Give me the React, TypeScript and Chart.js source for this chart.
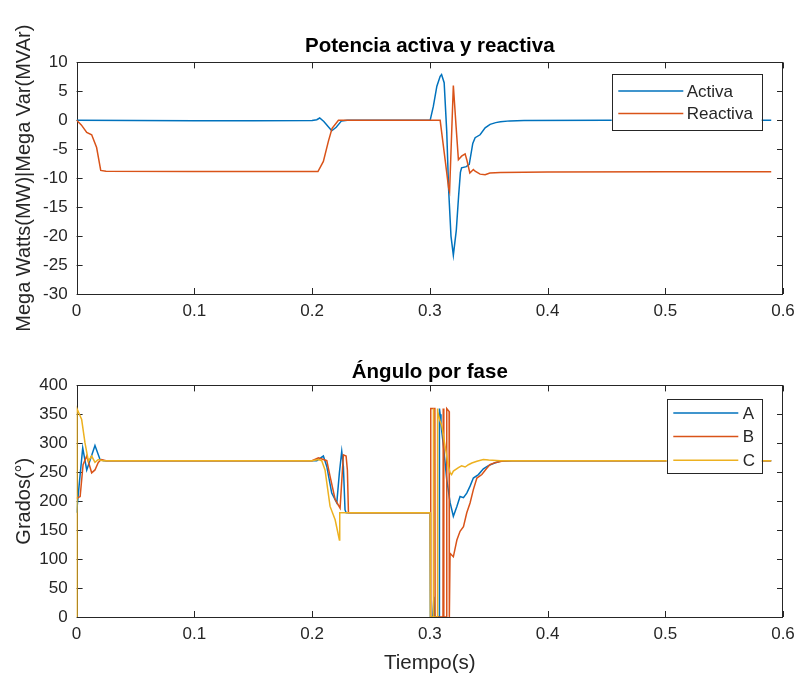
import React, { useEffect, useRef } from 'react';
import { Chart, registerables } from 'chart.js';

Chart.register(...registerables);

// ---------- Data ----------
const xTicks = [0, 0.1, 0.2, 0.3, 0.4, 0.5, 0.6];
const xTickLabels = ['0', '0.1', '0.2', '0.3', '0.4', '0.5', '0.6'];
const powerTicks = [-30, -25, -20, -15, -10, -5, 0, 5, 10];
const powerTickLabels = ['-30', '-25', '-20', '-15', '-10', '-5', '0', '5', '10'];
const angleTicks = [0, 50, 100, 150, 200, 250, 300, 350, 400];
const angleTickLabels = ['0', '50', '100', '150', '200', '250', '300', '350', '400'];

const powerTitle = 'Potencia activa y reactiva';
const angleTitle = 'Ángulo por fase';
const powerYLabel = 'Mega Watts(MW)|Mega Var(MVAr)';
const angleYLabel = 'Grados(°)';
const timeLabel = 'Tiempo(s)';
const powerSeriesNames = ['Activa', 'Reactiva'];
const angleSeriesNames = ['A', 'B', 'C'];

const tActiva = [0, 0.05, 0.1, 0.15, 0.2, 0.204, 0.2065, 0.21, 0.2167, 0.2205, 0.225, 0.23, 0.3, 0.3003, 0.303, 0.306, 0.3088, 0.31, 0.3122, 0.3144, 0.316, 0.318, 0.32, 0.3225, 0.3245, 0.326, 0.327, 0.331, 0.3335, 0.3365, 0.3385, 0.3427, 0.347, 0.3512, 0.356, 0.36, 0.368, 0.38, 0.45, 0.52, 0.59];
const activa = [0, -0.05, -0.08, -0.08, -0.05, 0.1, 0.4, -0.2, -1.8, -1.2, -0.1, 0, 0, 0, 2.4, 5.9, 7.6, 7.9, 6.5, -2, -12, -20, -23.3, -19, -13, -9, -8.2, -8, -7.6, -4, -3, -2.5, -1.3, -0.7, -0.4, -0.27, -0.1, -0.05, 0, 0, 0];

const tReactiva = [0, 0.004, 0.0086, 0.0128, 0.017, 0.0205, 0.025, 0.1, 0.205, 0.2096, 0.2139, 0.217, 0.2224, 0.23, 0.3, 0.3088, 0.313, 0.316, 0.3168, 0.32, 0.3223, 0.3243, 0.327, 0.33, 0.3314, 0.334, 0.337, 0.3385, 0.3427, 0.347, 0.351, 0.36, 0.4, 0.5, 0.59];
const reactiva = [0, -0.8, -2.1, -2.5, -4.7, -8.65, -8.8, -8.85, -8.85, -7.1, -3.6, -1.4, 0, 0, 0, 0, -6.8, -11.7, -12.3, 6.0, -1, -6.8, -6.2, -5.8, -6.8, -9.1, -8.5, -8.8, -9.3, -9.4, -9.1, -9.0, -8.95, -8.9, -8.9];

const tA = [0, 0.0025, 0.0052, 0.0086, 0.0108, 0.0156, 0.0199, 0.023, 0.1, 0.2, 0.204, 0.2096, 0.2125, 0.2167, 0.221, 0.2232, 0.2252, 0.2266, 0.228, 0.229, 0.25, 0.3003, 0.3005, 0.3025, 0.3035, 0.304, 0.308, 0.3082, 0.3088, 0.3095, 0.3102, 0.3116, 0.3144, 0.3173, 0.32, 0.323, 0.3257, 0.3286, 0.3314, 0.3342, 0.337, 0.3413, 0.3455, 0.3498, 0.355, 0.36, 0.37, 0.45, 0.52, 0.59];
const angleA = [180, 235, 292, 254, 267, 296, 272, 270, 270, 270, 270, 278, 260, 214, 197, 249, 286, 260, 185, 180, 180, 180, 0, 0, 35, 0, 0, 360, 350, 335, 320, 295, 237, 197, 174, 191, 208, 206, 214, 226, 240, 246, 256, 261.5, 266, 269, 270, 270, 270, 270];

const tB = [0, 0.003, 0.0055, 0.0086, 0.0128, 0.0156, 0.0184, 0.021, 0.025, 0.1, 0.2, 0.2054, 0.2125, 0.2153, 0.2196, 0.2238, 0.2266, 0.2289, 0.23, 0.2309, 0.25, 0.3005, 0.3007, 0.3009, 0.3043, 0.3045, 0.3112, 0.3114, 0.3118, 0.312, 0.3142, 0.3144, 0.3164, 0.3166, 0.3172, 0.32, 0.323, 0.3257, 0.3286, 0.3314, 0.3342, 0.337, 0.34, 0.3442, 0.3484, 0.351, 0.356, 0.362, 0.37, 0.45, 0.52, 0.59];
const angleB = [205, 208, 263, 278, 249, 254, 267, 272, 270, 270, 270, 275, 270, 243, 203, 188, 280, 278, 254, 180, 180, 180, 0, 360, 360, 0, 0, 360, 360, 0, 0, 360, 355, 0, 110, 104, 133, 148, 156, 180, 197, 220, 240, 246, 257, 263, 267, 269.5, 270, 270, 270, 270];

const tC = [0, 0.0003, 0.002, 0.0043, 0.0071, 0.01, 0.0128, 0.0156, 0.0184, 0.022, 0.1, 0.2, 0.2054, 0.2082, 0.211, 0.2153, 0.2196, 0.2232, 0.2235, 0.25, 0.3003, 0.3005, 0.3028, 0.303, 0.3032, 0.3062, 0.3064, 0.3068, 0.3085, 0.3102, 0.313, 0.3158, 0.3173, 0.3185, 0.32, 0.3243, 0.327, 0.33, 0.3328, 0.3357, 0.34, 0.3455, 0.35, 0.36, 0.45, 0.52, 0.59];
const angleC = [0, 360, 352, 341, 301, 269, 278, 267, 272, 270, 270, 270, 272, 270, 254, 191, 168, 133, 180, 180, 180, 0, 0, 360, 0, 0, 360, 355, 340, 330, 295, 260, 249, 246, 252, 258, 261, 259, 263, 266, 269, 272, 271, 270, 270, 270, 270];

// ---------- Styles ----------
const BLUE = '#0072BD';
const ORANGE = '#D95319';
const YELLOW = '#EDB120';
const AXIS = '#262626';
const FONT = '"Liberation Sans", Arial, Helvetica, sans-serif';

const zip = (xs: number[], ys: number[]) => xs.map((x, i) => ({ x, y: ys[i] }));

const framePlugin = {
  id: 'matlabFrame',
  beforeDatasetsDraw(chart: any) {
    const { ctx, chartArea: a, scales } = chart;
    const tl = 6;
    ctx.save();
    ctx.strokeStyle = AXIS;
    ctx.lineWidth = 1;
    ctx.beginPath();
    ctx.rect(Math.round(a.left) + 0.5, Math.round(a.top) + 0.5, Math.round(a.right - a.left) - 1, Math.round(a.bottom - a.top));
    ctx.stroke();
    ctx.beginPath();
    for (const t of scales.x.ticks) {
      const px = Math.round(scales.x.getPixelForValue(t.value)) + 0.5;
      ctx.moveTo(px, a.bottom); ctx.lineTo(px, a.bottom - tl);
      ctx.moveTo(px, a.top); ctx.lineTo(px, a.top + tl);
    }
    for (const t of scales.y.ticks) {
      const py = Math.round(scales.y.getPixelForValue(t.value)) + 0.5;
      ctx.moveTo(a.left, py); ctx.lineTo(a.left + tl, py);
      ctx.moveTo(a.right, py); ctx.lineTo(a.right - tl, py);
    }
    ctx.stroke();
    ctx.restore();
  },
  afterDraw(chart: any) {
    const opts = chart.options.plugins.boxLegend;
    if (!opts) return;
    const { ctx, chartArea: a } = chart;
    const ds = chart.data.datasets;
    const right = a.right - opts.insetRight;
    const left = right - opts.width;
    const top = a.top + opts.insetTop;
    const h = opts.firstRow * 2 + opts.rowGap * (ds.length - 1);
    ctx.save();
    ctx.fillStyle = '#ffffff';
    ctx.fillRect(left, top, opts.width, h);
    ctx.strokeStyle = AXIS;
    ctx.lineWidth = 1;
    ctx.strokeRect(Math.round(left) + 0.5, Math.round(top) + 0.5, Math.round(opts.width), Math.round(h));
    ctx.font = `${opts.fontSize}px ${FONT}`;
    ctx.textBaseline = 'middle';
    ctx.textAlign = 'left';
    ds.forEach((d: any, i: number) => {
      const y = top + opts.firstRow + i * opts.rowGap;
      ctx.strokeStyle = d.borderColor;
      ctx.lineWidth = 1.5;
      ctx.beginPath();
      ctx.moveTo(left + opts.lineStart, y);
      ctx.lineTo(left + opts.lineStart + opts.lineLen, y);
      ctx.stroke();
      ctx.fillStyle = AXIS;
      ctx.fillText(d.label, left + opts.textStart, y + 1);
    });
    ctx.restore();
  },
};

function makeConfig(opts: {
  datasets: any[];
  title: string;
  titlePad: { top: number; bottom: number };
  yLabel: string;
  yTicks: number[];
  yTickLabels: string[];
  yMin: number;
  yMax: number;
  xLabel?: string;
  xAxisHeight: number;
  bottomPad: number;
  legend: any;
}) {
  return {
    type: 'line',
    data: { datasets: opts.datasets },
    plugins: [framePlugin],
    options: {
      animation: false,
      responsive: false,
      maintainAspectRatio: false,
      layout: { padding: { left: 0, right: 14, top: 0, bottom: opts.bottomPad } },
      elements: { point: { radius: 0, hoverRadius: 0 }, line: { tension: 0, borderWidth: 1.5 } },
      plugins: {
        legend: { display: false },
        tooltip: { enabled: false },
        title: {
          display: true,
          fullSize: false,
          text: opts.title,
          color: '#000000',
          font: { family: FONT, size: 20.5, weight: 'bold' },
          padding: opts.titlePad,
        },
        boxLegend: opts.legend,
      },
      scales: {
        x: {
          type: 'linear',
          min: 0,
          max: 0.6,
          afterBuildTicks: (s: any) => { s.ticks = xTicks.map((v) => ({ value: v })); },
          afterFit: (s: any) => { s.height = opts.xAxisHeight; s.paddingLeft = 0; s.paddingRight = 0; },
          grid: { display: false, drawTicks: false },
          border: { display: false },
          ticks: {
            color: AXIS,
            padding: 7,
            maxRotation: 0,
            autoSkip: false,
            font: { family: FONT, size: 17 },
            callback: (_v: any, i: number) => xTickLabels[i],
          },
          title: opts.xLabel
            ? { display: true, text: opts.xLabel, color: AXIS, font: { family: FONT, size: 20.5 }, padding: { top: 4, bottom: 3 } }
            : { display: false },
        },
        y: {
          type: 'linear',
          min: opts.yMin,
          max: opts.yMax,
          afterBuildTicks: (s: any) => { s.ticks = opts.yTicks.map((v) => ({ value: v })); },
          afterFit: (s: any) => { s.width = 76.6; s.paddingTop = 0; s.paddingBottom = 0; },
          grid: { display: false, drawTicks: false },
          border: { display: false },
          ticks: {
            color: AXIS,
            padding: 9,
            autoSkip: false,
            font: { family: FONT, size: 17 },
            callback: (_v: any, i: number) => opts.yTickLabels[i],
          },
          title: { display: true, text: opts.yLabel, color: AXIS, font: { family: FONT, size: 20 }, padding: { top: 12, bottom: 0 } },
        },
      },
    },
  };
}

function ChartCanvas({ config, width, height, top }: { config: any; width: number; height: number; top: number }) {
  const ref = useRef<HTMLCanvasElement | null>(null);
  useEffect(() => {
    if (!ref.current) return;
    const chart = new Chart(ref.current, config);
    return () => chart.destroy();
  }, [config]);
  return (
    <canvas
      ref={ref}
      width={width}
      height={height}
      style={{ position: 'absolute', left: 0, top, width, height, display: 'block' }}
    />
  );
}

const lineDs = (label: string, color: string, xs: number[], ys: number[], order: number) => ({
  label,
  data: zip(xs, ys),
  borderColor: color,
  backgroundColor: color,
  borderWidth: 1.5,
  pointRadius: 0,
  fill: false,
  order,
});

const powerConfig = makeConfig({
  datasets: [
    lineDs(powerSeriesNames[0], BLUE, tActiva, activa, 1),
    lineDs(powerSeriesNames[1], ORANGE, tReactiva, reactiva, 0),
  ],
  title: powerTitle,
  titlePad: { top: 34.4, bottom: 3.4 },
  yLabel: powerYLabel,
  yTicks: powerTicks,
  yTickLabels: powerTickLabels,
  yMin: -30,
  yMax: 10,
  xAxisHeight: 30,
  bottomPad: 16,
  legend: { insetRight: 21.3, insetTop: 12, width: 150, firstRow: 16.7, rowGap: 22.4, lineStart: 6.6, lineLen: 65, textStart: 75, fontSize: 17 },
});

const angleConfig = makeConfig({
  datasets: [
    lineDs(angleSeriesNames[0], BLUE, tA, angleA, 2),
    lineDs(angleSeriesNames[1], ORANGE, tB, angleB, 1),
    lineDs(angleSeriesNames[2], YELLOW, tC, angleC, 0),
  ],
  title: angleTitle,
  titlePad: { top: 20.4, bottom: 0.4 },
  yLabel: angleYLabel,
  yTicks: angleTicks,
  yTickLabels: angleTickLabels,
  yMin: 0,
  yMax: 400,
  xLabel: timeLabel,
  xAxisHeight: 62,
  bottomPad: 0,
  legend: { insetRight: 21.3, insetTop: 14, width: 95, firstRow: 13.5, rowGap: 23.7, lineStart: 6.6, lineLen: 65, textStart: 76, fontSize: 17 },
});

export default function App() {
  return (
    <div style={{ position: 'fixed', left: 0, top: 0, width: 797, height: 679, background: '#ffffff' }}>
      <ChartCanvas config={powerConfig} width={797} height={340} top={0} />
      <ChartCanvas config={angleConfig} width={797} height={339} top={340} />
    </div>
  );
}
